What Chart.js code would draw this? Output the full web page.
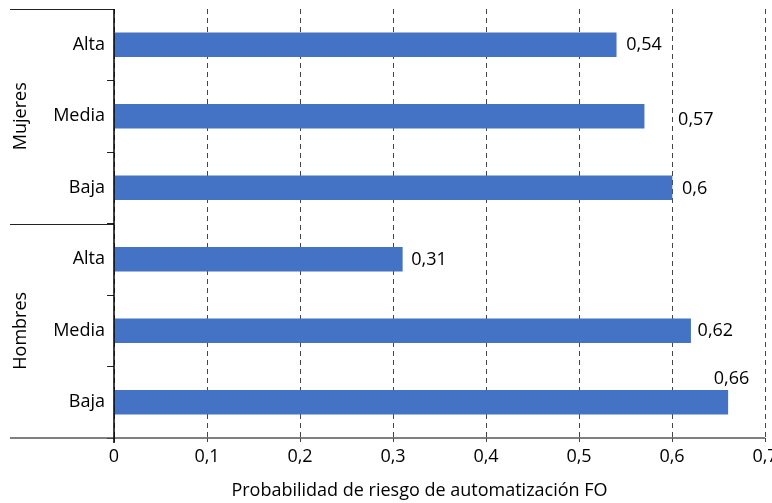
<!DOCTYPE html>
<html>
<head>
<meta charset="utf-8">
<script src="https://cdn.jsdelivr.net/npm/chart.js@4/dist/chart.umd.min.js"></script>
<style>
  html, body { margin: 0; padding: 0; background: #fff; }
  #wrap { width: 772px; height: 503px; }
</style>
</head>
<body>
<div id="wrap"><canvas id="c"></canvas></div>
<script>
// Automation-risk probability by skill level, grouped by sex
const levels = ['Alta', 'Media', 'Baja', 'Alta', 'Media', 'Baja'];
const groups = ['Mujeres', 'Hombres'];
const groupSize = 3;
const riskValues = [0.54, 0.57, 0.6, 0.31, 0.62, 0.66];
const tickValues = [0, 0.1, 0.2, 0.3, 0.4, 0.5, 0.6, 0.7];
const axisTitle = 'Probabilidad de riesgo de automatización FO';

// Per-label nudges (px) for the value annotations
const labelShift = [
  { dx: 10, dy: 0 },
  { dx: 34, dy: 4 },
  { dx: 10, dy: 1 },
  { dx: 9, dy: 1 },
  { dx: 7, dy: 0 },
  { dx: -14, dy: -23 }
];

const FONT = '"Open Sans", "DejaVu Sans", sans-serif';
const SIZE = 18;
const fmt = v => String(v).replace('.', ',');

const decorations = {
  id: 'decorations',
  afterDraw(chart) {
    const ctx = chart.ctx;
    const area = chart.chartArea;
    const ys = chart.scales.y;
    const leftEdge = 10;
    ctx.save();

    // group separators on the category side
    const boundary = i => (ys.getPixelForValue(i) + ys.getPixelForValue(i + 1)) / 2;
    const bounds = [area.top];
    for (let g = 1; g < groups.length; g++) bounds.push(boundary(g * groupSize - 1));
    bounds.push(area.bottom);

    ctx.strokeStyle = '#222';
    ctx.lineWidth = 1;
    bounds.slice(0, -1).forEach(y => {
      const yy = Math.round(y) + 0.5;
      ctx.beginPath();
      ctx.moveTo(leftEdge, yy);
      ctx.lineTo(area.left, yy);
      ctx.stroke();
    });

    // value axis line, extended under the group labels
    ctx.strokeStyle = '#555';
    ctx.lineWidth = 1.5;
    ctx.beginPath();
    ctx.moveTo(leftEdge, area.bottom);
    ctx.lineTo(area.right, area.bottom);
    ctx.stroke();

    // category axis line
    ctx.strokeStyle = '#000';
    ctx.lineWidth = 1.5;
    ctx.beginPath();
    ctx.moveTo(area.left, area.top);
    ctx.lineTo(area.left, area.bottom + 5);
    ctx.stroke();

    // rotated group labels
    ctx.fillStyle = '#000';
    ctx.font = SIZE + 'px ' + FONT;
    ctx.textAlign = 'center';
    ctx.textBaseline = 'middle';
    groups.forEach((name, g) => {
      const cy = (bounds[g] + bounds[g + 1]) / 2;
      ctx.save();
      ctx.translate(21, cy);
      ctx.rotate(-Math.PI / 2);
      ctx.fillText(name, 0, 0);
      ctx.restore();
    });

    // value annotations
    const meta = chart.getDatasetMeta(0);
    ctx.textAlign = 'left';
    meta.data.forEach((bar, i) => {
      const s = labelShift[i];
      ctx.fillText(fmt(riskValues[i]), bar.x + s.dx, bar.y + s.dy);
    });

    // axis title
    ctx.textAlign = 'center';
    ctx.fillText(axisTitle, (area.left + area.right) / 2 - 20, 491);
    ctx.restore();
  }
};

new Chart(document.getElementById('c'), {
  type: 'bar',
  data: {
    labels: levels,
    datasets: [{
      data: riskValues,
      backgroundColor: '#4472C4',
      borderWidth: 0,
      barThickness: 24
    }]
  },
  options: {
    indexAxis: 'y',
    responsive: true,
    maintainAspectRatio: false,
    animation: false,
    layout: { padding: { top: 9, right: 7, left: 0, bottom: 0 } },
    plugins: { legend: { display: false }, tooltip: { enabled: false } },
    scales: {
      x: {
        min: 0,
        max: 0.7,
        afterBuildTicks(scale) {
          scale.ticks = tickValues.map(v => ({ value: v }));
        },
        afterFit(scale) {
          scale.height = 65;
          scale.paddingLeft = 0;
          scale.paddingRight = 0;
        },
        grid: {
          color: '#444',
          lineWidth: 1,
          drawTicks: true,
          tickLength: 4
        },
        border: { display: false, dash: [5, 4] },
        ticks: {
          color: '#000',
          font: { family: FONT, size: SIZE },
          padding: 4,
          maxRotation: 0,
          autoSkip: false,
          callback: v => fmt(v)
        }
      },
      y: {
        afterFit(scale) {
          scale.width = 114;
          scale.paddingTop = 0;
          scale.paddingBottom = 0;
        },
        grid: {
          offset: true,
          drawOnChartArea: false,
          drawTicks: true,
          tickLength: 7,
          color: '#222'
        },
        border: { display: false },
        ticks: {
          color: '#000',
          font: { family: FONT, size: SIZE },
          padding: 2
        }
      }
    }
  },
  plugins: [decorations]
});
</script>
</body>
</html>
